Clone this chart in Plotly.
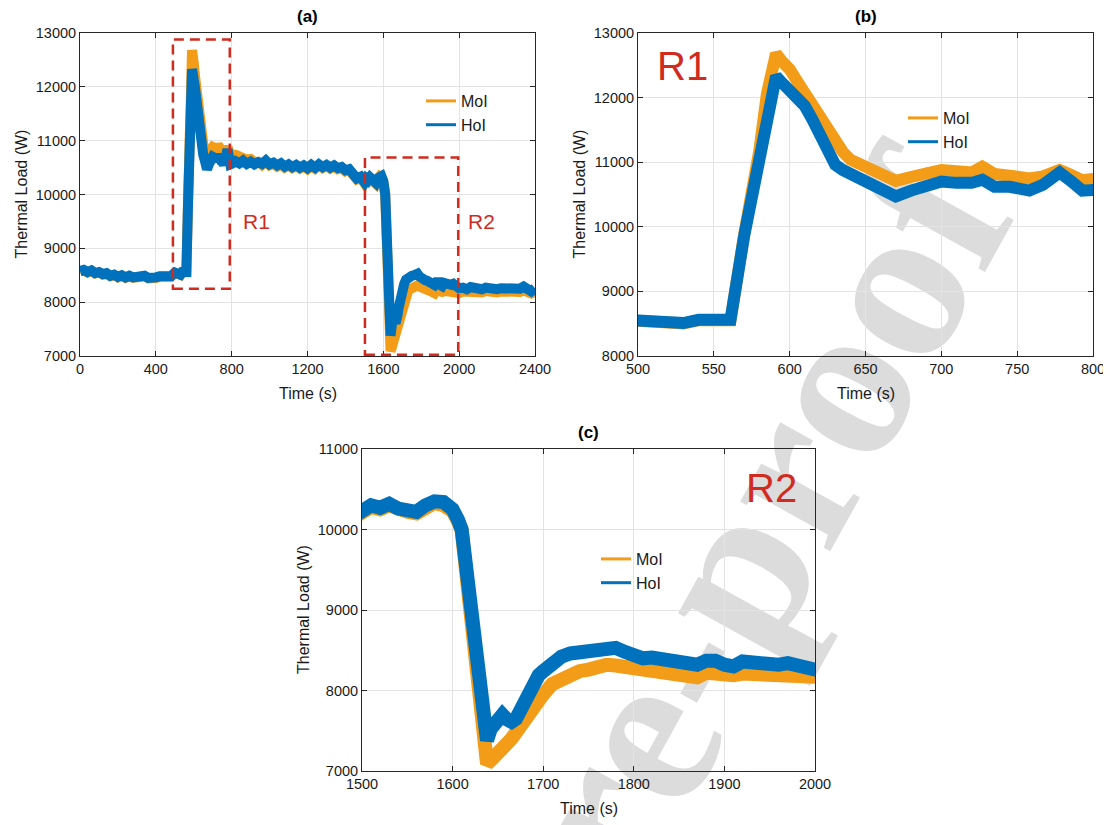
import plotly.graph_objects as go

# ---------------- data ----------------
time_s = [
    0, 20, 40, 60, 80, 100, 120, 140, 160, 180, 200, 220, 240, 260, 280, 300, 320, 340, 360, 380,
    400, 420, 440, 460, 480,
    500, 510, 520, 530, 540, 550, 561,
    570, 575, 580, 585, 591,
    595, 600, 605, 610, 615, 620, 625, 630, 635, 640, 650, 660, 670, 680, 690, 700, 710, 720, 727,
    735, 745, 750, 758, 767, 778, 786, 793, 800,
    820, 840, 860, 880, 900, 920, 940, 960, 980, 1000, 1020, 1040, 1060, 1080, 1100, 1120, 1140,
    1160, 1180, 1200, 1220, 1240, 1260, 1280, 1300, 1320, 1340, 1360, 1380, 1400, 1420, 1440, 1460, 1480,
    1500, 1510, 1520, 1530, 1540, 1550, 1560, 1570, 1580, 1590, 1600, 1606, 1610,
    1620, 1630, 1638,
    1642, 1645, 1650, 1655, 1660, 1665, 1670, 1675, 1680, 1685, 1690, 1695, 1700,
    1710, 1720, 1730, 1740, 1750, 1760, 1770, 1780, 1790, 1800, 1810, 1820, 1830, 1840, 1850,
    1860, 1870, 1880, 1890, 1900, 1910, 1920, 1930, 1940, 1950, 1960, 1970, 1980, 1990, 2000,
    2020, 2040, 2060, 2080, 2100, 2120, 2140, 2160, 2180, 2200, 2220, 2240, 2260, 2280, 2300,
    2320, 2340, 2360, 2380, 2400,
]

moi_w = [
    8570, 8590, 8550, 8580, 8530, 8550, 8510, 8530, 8480, 8500, 8460, 8490, 8450, 8480, 8450, 8470, 8450, 8480, 8440, 8470,
    8450, 8470, 8460, 8490, 8470,
    8545, 8525, 8495, 8505, 8555, 8545, 8555,
    9880, 10500, 11180, 12060, 12680,
    12560, 12440, 12250, 12060, 11880, 11690, 11490, 11300, 11160, 11040, 10940, 10820, 10710, 10770, 10840, 10880, 10860, 10840, 10930,
    10820, 10790, 10770, 10750, 10780, 10880, 10800, 10720, 10740,
    10740, 10700, 10710, 10650, 10660, 10600, 10610, 10550, 10610, 10540, 10570, 10520, 10560, 10500, 10540, 10490, 10530,
    10480, 10520, 10470, 10530, 10480, 10540, 10490, 10530, 10480, 10520, 10470, 10490, 10430, 10450, 10380, 10280, 10310,
    10210, 10280, 10250, 10300, 10240, 10220, 10200, 10280, 10330, 10300, 10230, 10100, 9990,
    8950, 7910, 7090,
    7130, 7160, 7230, 7290, 7340, 7400, 7480, 7570, 7660, 7750, 7830, 7890, 7950,
    8080, 8150, 8200, 8240, 8260, 8300, 8320, 8310, 8290, 8260, 8240, 8240, 8230, 8220, 8200,
    8180, 8165, 8220, 8210, 8180, 8190, 8210, 8200, 8190, 8185, 8200, 8200, 8190, 8180, 8170,
    8200, 8190, 8210, 8190, 8200, 8180, 8205, 8190, 8200, 8180, 8200, 8190, 8205, 8180, 8200,
    8190, 8220, 8200, 8160, 8200,
]

hoi_w = [
    8580, 8600, 8560, 8590, 8540, 8560, 8520, 8540, 8490, 8510, 8470, 8500, 8460, 8490, 8460, 8480, 8460, 8490, 8450, 8480,
    8460, 8480, 8470, 8500, 8480,
    8550, 8530, 8500, 8510, 8560, 8550, 8560,
    9860, 10400, 10940, 11620, 12330,
    12230, 12120, 12020, 11870, 11660, 11430, 11150, 10960, 10880, 10820, 10740, 10610, 10470, 10560, 10640, 10700, 10680, 10680, 10730,
    10620, 10620, 10610, 10560, 10650, 10840, 10700, 10560, 10570,
    10620, 10580, 10630, 10570, 10610, 10560, 10600, 10570, 10630, 10560, 10590, 10540, 10580, 10520, 10560, 10510, 10550,
    10500, 10540, 10490, 10550, 10500, 10560, 10510, 10550, 10500, 10540, 10490, 10510, 10450, 10470, 10400, 10300, 10330,
    10230, 10300, 10270, 10320, 10260, 10240, 10220, 10300, 10350, 10340, 10250, 10120, 10000,
    9060, 8130, 7380,
    7520, 7580, 7650, 7700, 7640, 7610, 7650, 7760, 7880, 8010, 8120, 8190, 8240,
    8340, 8420, 8460, 8480, 8490, 8500, 8510, 8530, 8480, 8440, 8400, 8410, 8400, 8390, 8370,
    8340, 8320, 8370, 8370, 8320, 8300, 8360, 8350, 8310, 8300, 8320, 8340, 8310, 8290, 8260,
    8270, 8240, 8280, 8250, 8270, 8240, 8270, 8250, 8260, 8240, 8260, 8250, 8270, 8240, 8260,
    8250, 8290, 8260, 8200, 8260,
]

series_names = ["MoI", "HoI"]
panel_titles = ["(a)", "(b)", "(c)"]
x_title = "Time (s)"
y_title = "Thermal Load (W)"
x_ranges = [[0, 2400], [500, 800], [1500, 2000]]
y_ranges = [[7000, 13000], [8000, 13000], [7000, 11000]]
x_steps = [400, 50, 100]
y_steps = [1000, 1000, 1000]
region_labels = ["R1", "R2"]
region_boxes_x = [[490, 790], [1503, 1995]]
region_boxes_y = [[8250, 12880], [7025, 10685]]

# ---------------- style ----------------
PAGE_OFF = 8                 # the page body margin the figure sits in
W, H = 1111 - PAGE_OFF, 825 - PAGE_OFF
FONT = "Arial, Liberation Sans, Helvetica, sans-serif"
ORANGE = "#F39C17"
BLUE = "#0072BD"
RED = "#D12B1F"
AX = "#262626"
GRID = "#e3e3e3"

# page-pixel boxes of the three plot areas: (left, right, top, bottom)
boxes = [(80, 535, 33, 356), (638, 1093, 33, 356), (362, 815, 449, 771)]
line_widths = [10, 12, 14]
axis_ids = ["", "2", "3"]
legend_ids = ["legend", "legend2", "legend3"]
legend_pos = [(421, 84), (903, 101), (596, 542)]


def px_x(v):
    return (v - PAGE_OFF) / W


def px_y(v):
    return 1 - (v - PAGE_OFF) / H


fig = go.Figure()

for i, ax in enumerate(axis_ids):
    xa = "x" + ax
    ya = "y" + ax
    for name, vals, col in [(series_names[0], moi_w, ORANGE), (series_names[1], hoi_w, BLUE)]:
        fig.add_trace(go.Scatter(
            x=time_s, y=vals, mode="lines", name=name,
            line=dict(color=col, width=line_widths[i]),
            xaxis=xa, yaxis=ya, showlegend=False, hoverinfo="skip",
        ))
    # legend entries
    for name, col in [(series_names[0], ORANGE), (series_names[1], BLUE)]:
        fig.add_trace(go.Scatter(
            x=[None], y=[None], mode="lines", name=name,
            line=dict(color=col, width=3),
            xaxis=xa, yaxis=ya, showlegend=True, legend=legend_ids[i],
        ))

common = dict(
    showgrid=True, gridcolor=GRID, gridwidth=1, zeroline=False,
    showline=True, linecolor=AX, linewidth=1, mirror="ticks",
    ticks="inside", ticklen=5, tickwidth=1, tickcolor=AX,
    tickfont=dict(family=FONT, size=14.5, color="#1a1a1a"),
    tickmode="linear", tickformat="d", fixedrange=True, automargin=False,
)

layout = dict(
    width=W, height=H,
    margin=dict(l=0, r=0, t=0, b=0, pad=0, autoexpand=False),
    paper_bgcolor="white", plot_bgcolor="rgba(0,0,0,0)",
    font=dict(family=FONT, color="#1a1a1a"),
)

for i, ax in enumerate(axis_ids):
    l, r, t, b = boxes[i]
    layout["xaxis" + ax] = dict(
        common, domain=[px_x(l), px_x(r)], range=x_ranges[i],
        tick0=x_ranges[i][0], dtick=x_steps[i], anchor="y" + ax,
    )
    layout["yaxis" + ax] = dict(
        common, domain=[px_y(b), px_y(t)], range=y_ranges[i],
        tick0=y_ranges[i][0], dtick=y_steps[i], anchor="x" + ax,
    )
    lx, ly = legend_pos[i]
    layout[legend_ids[i]] = dict(
        x=px_x(lx), y=px_y(ly), xanchor="left", yanchor="top",
        bgcolor="rgba(0,0,0,0)", borderwidth=0,
        font=dict(family=FONT, size=16, color="#1a1a1a"),
        itemwidth=30, tracegroupgap=0,
    )

fig.update_layout(**layout)

annotations = []
for i in range(3):
    l, r, t, b = boxes[i]
    cx = (l + r) / 2
    cy = (t + b) / 2
    annotations.append(dict(
        text="<b>%s</b>" % panel_titles[i], x=px_x(cx), y=px_y(t - 17),
        xref="paper", yref="paper", showarrow=False, xanchor="center", yanchor="middle",
        font=dict(family=FONT, size=17, color="#000000"),
    ))
    annotations.append(dict(
        text=x_title, x=px_x(cx), y=px_y(b + 37),
        xref="paper", yref="paper", showarrow=False, xanchor="center", yanchor="middle",
        font=dict(family=FONT, size=16, color="#1a1a1a"),
    ))
    annotations.append(dict(
        text=y_title, x=px_x(l - 59), y=px_y(cy), textangle=-90,
        xref="paper", yref="paper", showarrow=False, xanchor="center", yanchor="middle",
        font=dict(family=FONT, size=16, color="#1a1a1a"),
    ))

# region labels in panel (a)
annotations.append(dict(text=region_labels[0], x=848, y=9500, xref="x", yref="y",
                        showarrow=False, xanchor="left", yanchor="middle",
                        font=dict(family=FONT, size=21, color=RED)))
annotations.append(dict(text=region_labels[1], x=2035, y=9500, xref="x", yref="y",
                        showarrow=False, xanchor="left", yanchor="middle",
                        font=dict(family=FONT, size=21, color=RED)))
# big region labels in (b) and (c)
annotations.append(dict(text=region_labels[0], x=511, y=12490, xref="x2", yref="y2",
                        showarrow=False, xanchor="left", yanchor="middle",
                        font=dict(family=FONT, size=40, color=RED)))
annotations.append(dict(text=region_labels[1], x=1922, y=10514, xref="x3", yref="y3",
                        showarrow=False, xanchor="left", yanchor="middle",
                        font=dict(family=FONT, size=40, color=RED)))
fig.update_layout(annotations=annotations)

# dashed region boxes in panel (a)
for bx, by in zip(region_boxes_x, region_boxes_y):
    fig.add_shape(type="rect", xref="x", yref="y", x0=bx[0], x1=bx[1], y0=by[0], y1=by[1],
                  line=dict(color=RED, width=2.5, dash="10px,6px"), fillcolor="rgba(0,0,0,0)",
                  layer="above")

# watermark (drawn below the plots)
cxw, cyw = 512, 919
ux, uy = 0.4848, -0.8746
d = 100
fig.add_shape(
    type="line", xref="paper", yref="paper",
    x0=px_x(cxw - d * ux), y0=px_y(cyw - d * uy), x1=px_x(cxw + d * ux), y1=px_y(cyw + d * uy),
    line=dict(width=0, color="rgba(0,0,0,0)"), layer="below",
    label=dict(text="Journal Pre-proof", textangle=-61, textposition="middle",
               xanchor="center", yanchor="middle",
               font=dict(family="Liberation Serif, Times New Roman, serif", size=224,
                         color="#dcdcdc", weight="bold")),
)

fig.write_html("out.html")
